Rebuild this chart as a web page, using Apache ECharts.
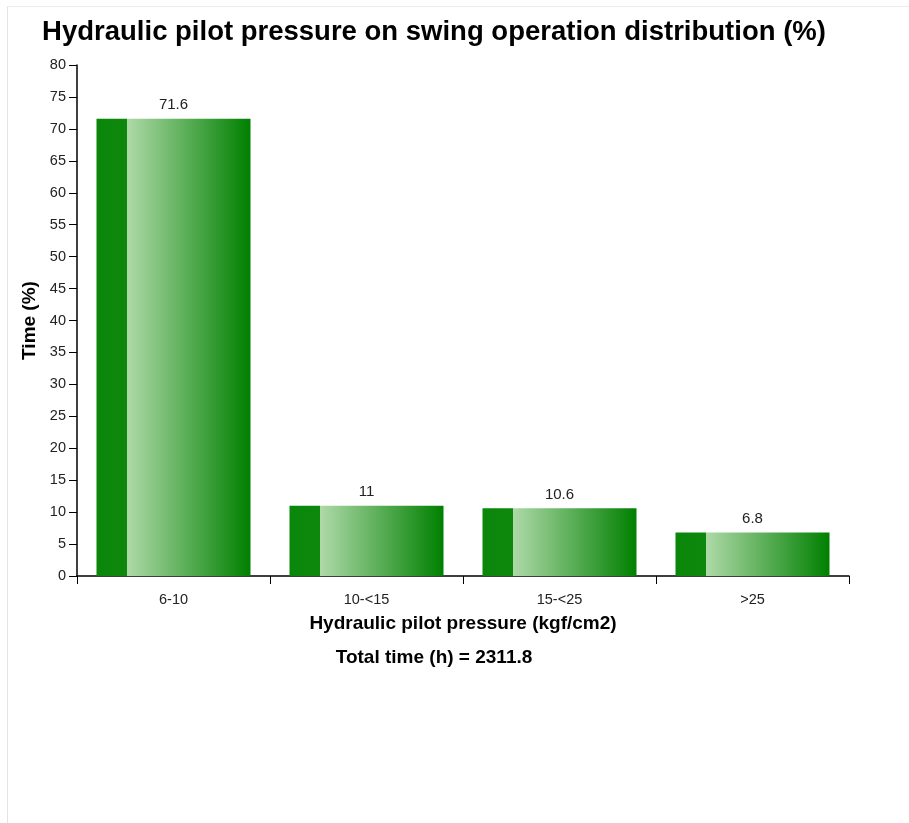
<!DOCTYPE html>
<html>
<head>
<meta charset="utf-8">
<title>Hydraulic pilot pressure on swing operation distribution</title>
<script src="https://cdn.jsdelivr.net/npm/echarts@6/dist/echarts.min.js"></script>
<style>
  html, body { margin: 0; padding: 0; background: #fff; }
  #frame {
    position: absolute; left: 7px; top: 6px; width: 1000px; height: 1000px;
    border-left: 1px solid #e4e4e4; border-top: 1px solid #ececec;
  }
  #chart { position: absolute; left: 0; top: 0; width: 909px; height: 823px; }
</style>
</head>
<body>
<div id="frame"></div>
<div id="chart"></div>
<script>
// Pressure bands and share of swing time (%) in each band
const categories = ['6-10', '10-<15', '15-<25', '>25'];
const timeShare = [71.6, 11, 10.6, 6.8];
const totalHours = 2311.8;

const FONT = 'Liberation Sans, Arial, Helvetica, sans-serif';

// Bar fill: solid dark strip on the left, then light-to-dark green sweep
const barFill = new echarts.graphic.LinearGradient(0, 0, 1, 0, [
  { offset: 0, color: '#0a860a' },
  { offset: 0.2, color: '#0d880d' },
  { offset: 0.2, color: '#aed9a8' },
  { offset: 1, color: '#008000' }
]);

const chart = echarts.init(document.getElementById('chart'), null, { renderer: 'canvas' });

chart.setOption({
  animation: false,
  backgroundColor: 'transparent',
  textStyle: { fontFamily: FONT },
  grid: { left: 77, right: 60, top: 65, bottom: 247, containLabel: false },
  xAxis: {
    type: 'category',
    data: categories,
    axisLine: { lineStyle: { color: '#000', width: 1.5 } },
    axisTick: { show: true, length: 8, alignWithLabel: false, lineStyle: { color: '#000' } },
    axisLabel: { color: '#222', fontSize: 14.5, fontFamily: FONT, margin: 16 }
  },
  yAxis: {
    type: 'value',
    min: 0,
    max: 80,
    interval: 5,
    name: 'Time (%)',
    nameLocation: 'middle',
    nameGap: 33,
    nameTextStyle: { color: '#000', fontSize: 19, fontWeight: 'bold', fontFamily: FONT },
    splitLine: { show: false },
    axisLine: { show: true, lineStyle: { color: '#000', width: 1.5 } },
    axisTick: { show: true, length: 8, lineStyle: { color: '#000' } },
    axisLabel: { color: '#222', fontSize: 14.5, fontFamily: FONT, margin: 11 }
  },
  series: [{
    type: 'bar',
    data: timeShare,
    barWidth: 154,
    itemStyle: { color: barFill },
    label: {
      show: true,
      position: 'top',
      distance: 6,
      color: '#222',
      fontSize: 15,
      fontFamily: FONT
    }
  }],
  graphic: [
    {
      type: 'text', x: 434, y: 32,
      style: {
        text: 'Hydraulic pilot pressure on swing operation distribution (%)',
        font: 'bold 27.5px ' + FONT, fill: '#000',
        align: 'center', verticalAlign: 'middle'
      }
    },
    {
      type: 'text', x: 463, y: 624,
      style: {
        text: 'Hydraulic pilot pressure (kgf/cm2)', font: 'bold 19px ' + FONT, fill: '#000',
        align: 'center', verticalAlign: 'middle'
      }
    },
    {
      type: 'text', x: 434, y: 658,
      style: {
        text: 'Total time (h) = ' + totalHours, font: 'bold 19px ' + FONT, fill: '#000',
        align: 'center', verticalAlign: 'middle'
      }
    }
  ]
});
</script>
</body>
</html>
